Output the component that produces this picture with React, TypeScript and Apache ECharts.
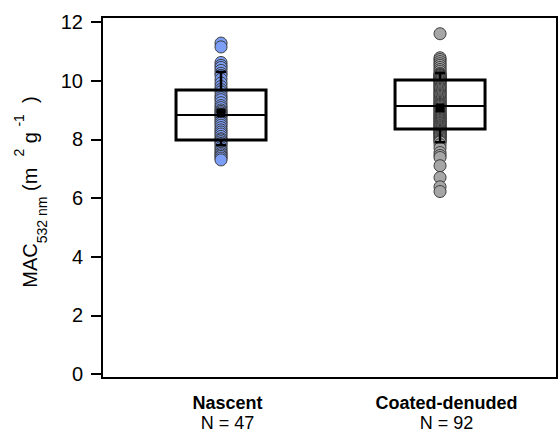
import React, { useEffect, useRef } from "react";
import * as echarts from "echarts";

const categories = ["Nascent", "Coated-denuded"];
const counts = [47, 92];
const categoryX = [1, 2];

const nascentValues = [
  11.28, 11.15, 10.62, 10.52, 10.45, 10.35, 10.25, 10.18, 10.05, 9.92, 9.8, 9.7,
  9.62, 9.5, 9.42, 9.35, 9.25, 9.15, 9.08, 9.0, 8.95, 8.9, 8.85, 8.82, 8.78, 8.7,
  8.62, 8.55, 8.48, 8.4, 8.32, 8.25, 8.18, 8.1, 8.02, 7.98, 7.92, 7.86, 7.8, 7.72,
  7.65, 7.58, 7.52, 7.47, 7.42, 7.36, 7.3,
];

const coatedValues = [
  11.6, 10.78, 10.72, 10.65, 10.58, 10.52, 10.45, 10.38, 10.32,
  10.25, 10.22, 10.2, 10.18, 10.15, 10.12, 10.1, 10.08, 10.06, 10.05, 10.04, 10.03, 10.02, 10.02,
  9.98, 9.94, 9.9, 9.86, 9.82, 9.78, 9.74, 9.7, 9.66, 9.62, 9.58, 9.54, 9.5, 9.46, 9.42, 9.38,
  9.34, 9.3, 9.26, 9.22, 9.19, 9.17, 9.15,
  9.12, 9.08, 9.04, 9.0, 8.96, 8.92, 8.88, 8.85, 8.82, 8.78, 8.75, 8.72, 8.68, 8.65, 8.62, 8.58,
  8.55, 8.52, 8.48, 8.45, 8.42, 8.39, 8.36,
  8.33, 8.3, 8.27, 8.24, 8.21, 8.18, 8.15, 8.12, 8.09, 8.06, 8.02, 7.98, 7.94, 7.91,
  7.82, 7.7, 7.55, 7.45, 7.38, 7.1, 6.7, 6.38, 6.22,
];

const whiskerLow = [7.8, 7.9];
const q1 = [7.98, 8.35];
const median = [8.83, 9.14];
const q3 = [9.68, 10.02];
const whiskerHigh = [10.3, 10.26];
const means = [8.9, 9.07];

const yTicks = [0, 2, 4, 6, 8, 10, 12];

export default function App() {
  const ref = useRef<HTMLDivElement>(null);
  useEffect(() => {
    if (!ref.current) return;
    const chart = echarts.init(ref.current, null, { renderer: "svg" });
    const boxData = categoryX.map((x, i) => [
      x,
      whiskerLow[i],
      q1[i],
      median[i],
      q3[i],
      whiskerHigh[i],
      means[i],
    ]);
    const font = "Arial, 'Liberation Sans', Helvetica, sans-serif";
    chart.setOption({
      animation: false,
      textStyle: { fontFamily: font },
      grid: {
        left: 102,
        top: 17,
        width: 455,
        height: 361,
        show: true,
        borderColor: "#000",
        borderWidth: 2,
        backgroundColor: "transparent",
      },
      xAxis: {
        type: "value",
        min: 0.4566,
        max: 2.534,
        axisLine: { show: false },
        axisTick: { show: false },
        splitLine: { show: false },
        axisLabel: {
          customValues: categoryX.map((x) => x + 0.03),
          margin: 15,
          formatter: (v: number) => {
            const i = categoryX.indexOf(Math.round(v));
            if (i < 0) return "";
            return `{b|${categories[i]}}\n{n|N = ${counts[i]}}`;
          },
          rich: {
            b: { fontSize: 18, fontWeight: "bold", color: "#000", fontFamily: font, lineHeight: 20 },
            n: { fontSize: 18, color: "#000", fontFamily: font, lineHeight: 20 },
          },
        },
      },
      yAxis: {
        type: "value",
        min: -0.136,
        max: 12.17,
        splitLine: { show: false },
        axisLine: { show: true, lineStyle: { color: "#000", width: 2 } },
        axisTick: {
          show: true,
          customValues: yTicks,
          length: 11,
          lineStyle: { color: "#000", width: 2 },
        },
        axisLabel: {
          customValues: yTicks,
          margin: 19,
          fontSize: 20,
          color: "#000",
          fontFamily: font,
        },
      },
      graphic: [
        {
          type: "text",
          x: 30,
          y: 192,
          rotation: Math.PI / 2,
          style: {
            text: "{a|MAC}{sub|532 nm}{a| (m  }{sup|2}{a| g }{sup|-1}{a|  )}",
            align: "center",
            verticalAlign: "middle",
            rich: {
              a: { fontSize: 20, fontFamily: font, fill: "#000", lineHeight: 37, verticalAlign: "middle" },
              sub: { fontSize: 14, fontFamily: font, fill: "#000", lineHeight: 20, verticalAlign: "bottom" },
              sup: { fontSize: 14, fontFamily: font, fill: "#000", lineHeight: 14, verticalAlign: "top" },
            },
          },
        },
      ],
      series: [
        {
          type: "scatter",
          z: 2,
          symbolSize: 12,
          data: nascentValues.map((v) => [categoryX[0], v]),
          itemStyle: { color: "#7d9ef6", borderColor: "#3a3a3a", borderWidth: 1, opacity: 1 },
        },
        {
          type: "scatter",
          z: 2,
          symbolSize: 12,
          data: coatedValues.map((v) => [categoryX[1], v]),
          itemStyle: { color: "#a6a6a6", borderColor: "#3a3a3a", borderWidth: 1, opacity: 1 },
        },
        {
          type: "custom",
          z: 5,
          data: boxData,
          renderItem: (params: any, api: any) => {
            const x = api.value(0);
            const pLow = api.coord([x, api.value(1)]);
            const pQ1 = api.coord([x, api.value(2)]);
            const pMed = api.coord([x, api.value(3)]);
            const pQ3 = api.coord([x, api.value(4)]);
            const pHigh = api.coord([x, api.value(5)]);
            const pMean = api.coord([x, api.value(6)]);
            const cx = pMed[0];
            const halfW = 45;
            const capHalf = 5;
            const stroke = { stroke: "#000", lineWidth: 2.5 };
            return {
              type: "group",
              children: [
                { type: "line", shape: { x1: cx, y1: pQ3[1], x2: cx, y2: pHigh[1] }, style: stroke },
                { type: "line", shape: { x1: cx - capHalf, y1: pHigh[1], x2: cx + capHalf, y2: pHigh[1] }, style: stroke },
                { type: "line", shape: { x1: cx, y1: pQ1[1], x2: cx, y2: pLow[1] }, style: stroke },
                { type: "line", shape: { x1: cx - capHalf, y1: pLow[1], x2: cx + capHalf, y2: pLow[1] }, style: stroke },
                {
                  type: "rect",
                  shape: { x: cx - halfW, y: pQ3[1], width: halfW * 2, height: pQ1[1] - pQ3[1] },
                  style: { fill: "none", stroke: "#000", lineWidth: 3 },
                },
                { type: "line", shape: { x1: cx - halfW, y1: pMed[1], x2: cx + halfW, y2: pMed[1] }, style: { stroke: "#000", lineWidth: 2 } },
                { type: "rect", shape: { x: pMean[0] - 4.5, y: pMean[1] - 4.5, width: 9, height: 9 }, style: { fill: "#000" } },
              ],
            };
          },
        },
      ],
    });
    return () => chart.dispose();
  }, []);
  return (
    <div
      ref={ref}
      style={{ position: "absolute", left: 0, top: 0, width: 560, height: 432 }}
    />
  );
}
